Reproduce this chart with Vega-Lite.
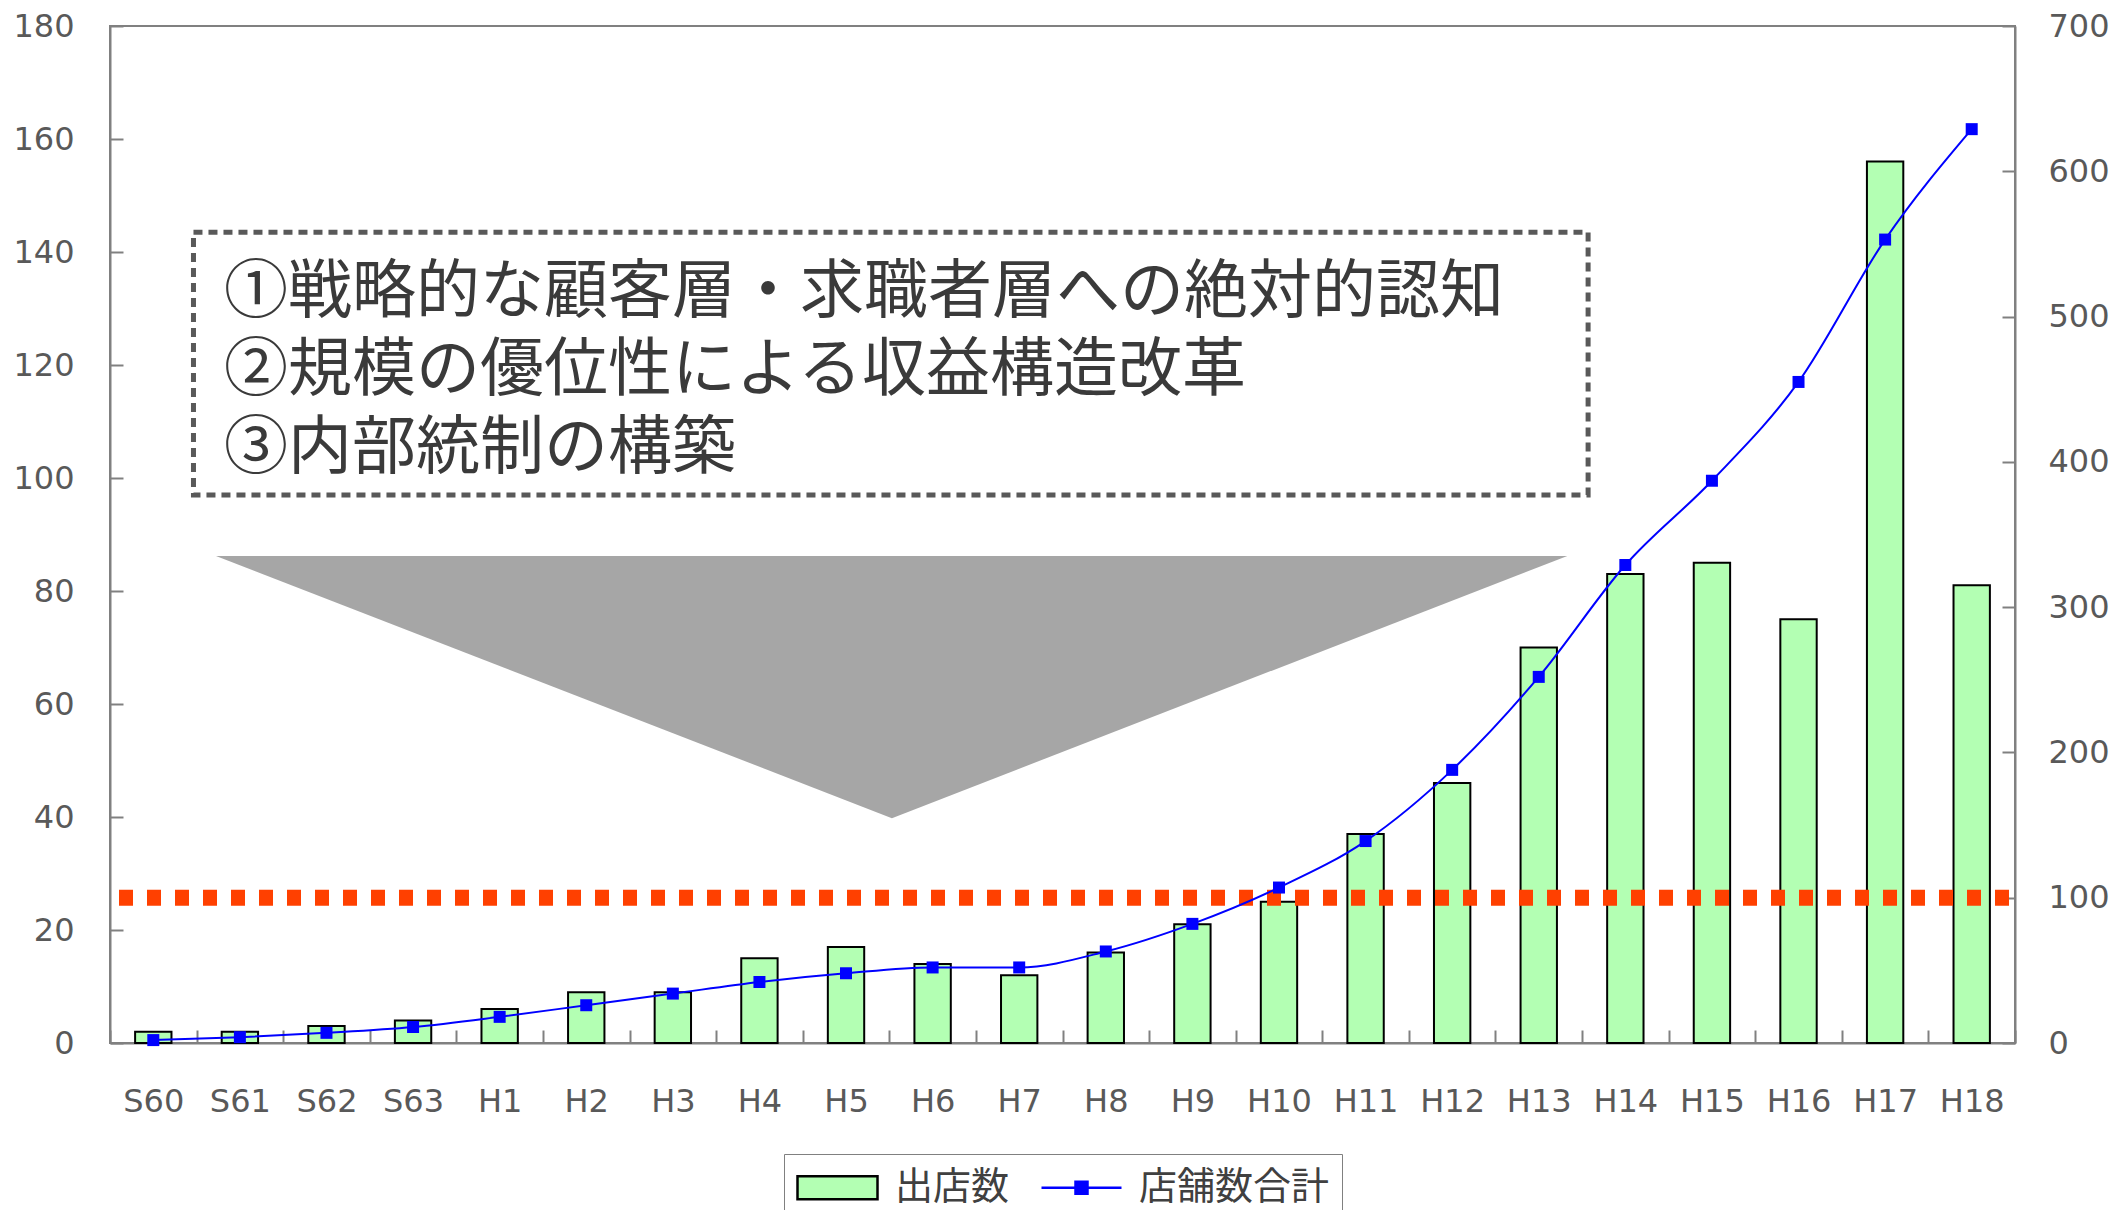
{
  "$schema": "https://vega.github.io/schema/vega-lite/v6.json",
  "autosize": {"type": "none"},
  "padding": {"left": 110, "top": 26, "right": 100, "bottom": 167},
  "width": 1905,
  "height": 1017,
  "background": "white",
  "config": {
    "view": {"stroke": "#808080", "strokeWidth": 2},
    "axis": {
      "domainColor": "#808080", "domainWidth": 2,
      "tickColor": "#808080", "tickWidth": 2,
      "labelColor": "#595959", "labelFont": "DejaVu Sans", "labelFontSize": 32,
      "grid": false
    },
    "legend": {
      "layout": {"bottom": {"anchor": "middle"}},
      "symbolOpacity": 1
    }
  },
  "datasets": {
    "stores": [
      {"year": "S60", "open": 2, "total": 2},
      {"year": "S61", "open": 2, "total": 4},
      {"year": "S62", "open": 3, "total": 7},
      {"year": "S63", "open": 4, "total": 11},
      {"year": "H1", "open": 6, "total": 18},
      {"year": "H2", "open": 9, "total": 26},
      {"year": "H3", "open": 9, "total": 34},
      {"year": "H4", "open": 15, "total": 42},
      {"year": "H5", "open": 17, "total": 48},
      {"year": "H6", "open": 14, "total": 52},
      {"year": "H7", "open": 12, "total": 52},
      {"year": "H8", "open": 16, "total": 63},
      {"year": "H9", "open": 21, "total": 82},
      {"year": "H10", "open": 25, "total": 107},
      {"year": "H11", "open": 37, "total": 139},
      {"year": "H12", "open": 46, "total": 188},
      {"year": "H13", "open": 70, "total": 252},
      {"year": "H14", "open": 83, "total": 329},
      {"year": "H15", "open": 85, "total": 387},
      {"year": "H16", "open": 75, "total": 455},
      {"year": "H17", "open": 156, "total": 553},
      {"year": "H18", "open": 81, "total": 629}
    ],
    "series": [{"series": "出店数"}, {"series": "店舗数合計"}],
    "threshold": [{"total": 100}],
    "box": [{"x": 0.964, "x2": 17.07, "y": 143.5, "y2": 97.0}],
    "arrow": [
      {"x": 1.224, "top": 86.2, "bottom": 86.2},
      {"x": 9.03, "top": 86.2, "bottom": 39.8},
      {"x": 16.83, "top": 86.2, "bottom": 86.2}
    ],
    "notes": [
      {"x": 1.317, "y": 132.7, "text": "①戦略的な顧客層・求職者層への絶対的認知"},
      {"x": 1.317, "y": 118.9, "text": "②規模の優位性による収益構造改革"},
      {"x": 1.317, "y": 105.2, "text": "③内部統制の構築"}
    ]
  },
  "layer": [
    {
      "data": {"name": "stores"},
      "layer": [
        {
          "mark": {"type": "bar", "strokeWidth": 2, "width": {"band": 0.42}},
          "encoding": {
            "x": {
              "field": "year", "type": "ordinal", "sort": null,
              "scale": {"paddingInner": 0, "paddingOuter": 0},
              "axis": {"title": null, "labelAngle": 0, "tickBand": "extent", "tickSize": -13, "labelPadding": 56}
            },
            "y": {
              "field": "open", "type": "quantitative",
              "scale": {"domain": [0, 180], "nice": false},
              "axis": {"orient": "left", "title": null, "values": [0, 20, 40, 60, 80, 100, 120, 140, 160, 180], "tickSize": -13, "labelPadding": 49}
            },
            "fill": {
              "datum": "出店数", "type": "nominal", "title": null,
              "scale": {"domain": ["出店数", "店舗数合計"], "range": ["#B3FFB3", "#0000FF"]},
              "legend": {
                "orient": "bottom", "direction": "horizontal", "title": null,
                "offset": 37, "padding": 12,
                "strokeColor": "#808080", "fillColor": "white",
                "labelFont": "Noto Sans CJK JP", "labelFontSize": 38, "labelColor": "#404040",
                "labelOffset": 56, "labelLimit": 400, "columnPadding": 26,
                "symbolSize": 1600, "symbolStrokeWidth": 2.5, "symbolOpacity": 1
              }
            },
            "stroke": {
              "datum": "出店数", "type": "nominal", "title": null,
              "scale": {"domain": ["出店数", "店舗数合計"], "range": ["#000000", "#0000FF"]},
              "legend": {"title": null}
            }
          }
        },
        {
          "data": {"name": "series"},
          "mark": {"type": "point", "filled": true, "opacity": 0, "size": 1},
          "encoding": {
            "fill": {"field": "series", "type": "nominal", "title": null, "legend": {"title": null}},
            "stroke": {"field": "series", "type": "nominal", "title": null, "legend": {"title": null}},
            "shape": {
              "field": "series", "type": "nominal", "title": null,
              "scale": {"domain": ["出店数", "店舗数合計"], "range": ["M-1,-0.575H3V0.575H-1Z", "M-1,0H3M0.7,-0.3H1.3V0.3H0.7Z"]},
              "legend": {"title": null}
            }
          }
        },
        {
          "layer": [
            {
              "data": {"name": "threshold"},
              "mark": {"type": "rule", "color": "#FF4000", "strokeWidth": 16, "strokeDash": [14, 14], "strokeDashOffset": 22},
              "encoding": {"y": {"field": "total", "type": "quantitative"}}
            },
            {
              "mark": {"type": "line", "strokeWidth": 2, "interpolate": "monotone", "color": "#0000FF"},
              "encoding": {
                "x": {"field": "year", "type": "ordinal", "sort": null},
                "y": {
                  "field": "total", "type": "quantitative",
                  "scale": {"domain": [0, 700], "nice": false},
                  "axis": {"orient": "right", "title": null, "values": [0, 100, 200, 300, 400, 500, 600, 700], "tickSize": -13, "labelPadding": 46}
                }
              }
            },
            {
              "mark": {"type": "point", "shape": "square", "filled": true, "size": 144, "color": "#0000FF", "opacity": 1},
              "encoding": {
                "x": {"field": "year", "type": "ordinal", "sort": null},
                "y": {"field": "total", "type": "quantitative"}
              }
            }
          ]
        }
      ],
      "resolve": {"scale": {"y": "independent"}}
    },
    {
      "layer": [
        {
          "data": {"name": "arrow"},
          "mark": {"type": "area", "color": "#A6A6A6", "opacity": 1},
          "encoding": {
            "x": {"field": "x", "type": "quantitative", "scale": {"domain": [0, 22], "nice": false, "zero": false}, "axis": null},
            "y": {"field": "top", "type": "quantitative", "scale": {"domain": [0, 180], "nice": false}, "axis": null},
            "y2": {"field": "bottom"}
          }
        },
        {
          "data": {"name": "box"},
          "mark": {"type": "rect", "fill": "white", "fillOpacity": 0, "stroke": "#595959", "strokeWidth": 5, "strokeDash": [9, 6]},
          "encoding": {
            "x": {"field": "x", "type": "quantitative"},
            "x2": {"field": "x2"},
            "y": {"field": "y", "type": "quantitative"},
            "y2": {"field": "y2"}
          }
        },
        {
          "data": {"name": "notes"},
          "mark": {"type": "text", "align": "left", "baseline": "middle", "font": "Liberation Sans, Noto Sans CJK JP", "fontSize": 64, "color": "#3a3a3a"},
          "encoding": {
            "x": {"field": "x", "type": "quantitative"},
            "y": {"field": "y", "type": "quantitative"},
            "text": {"field": "text"}
          }
        }
      ]
    }
  ],
  "resolve": {"scale": {"x": "independent", "y": "independent"}}
}
